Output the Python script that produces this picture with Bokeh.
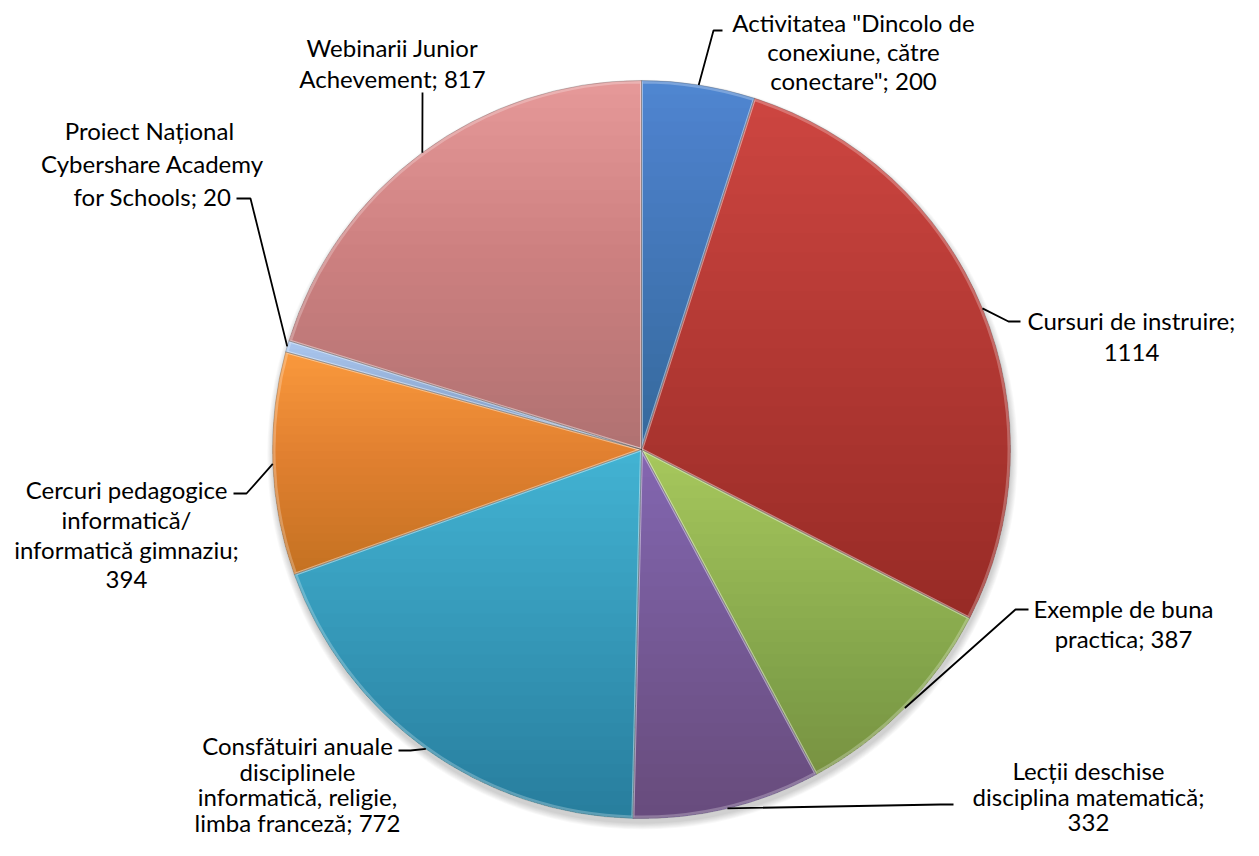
import numpy as np
from bokeh.plotting import figure
from bokeh.models import Range1d, ColumnDataSource
from bokeh.core.properties import value
from bokeh.embed import file_html
from bokeh.resources import INLINE

# ---------------- data ----------------
categories = [
    'Activitatea "Dincolo de conexiune, către conectare"',
    "Cursuri de instruire",
    "Exemple de buna practica",
    "Lecții deschise disciplina matematică",
    "Consfătuiri anuale disciplinele informatică, religie, limba franceză",
    "Cercuri pedagogice informatică/ informatică gimnaziu",
    "Proiect  Național Cybershare Academy for Schools",
    "Webinarii Junior Achevement",
]
values = [200, 1114, 387, 332, 772, 394, 20, 817]
label_lines = [
    ['Activitatea "Dincolo de', 'conexiune, către', 'conectare"; {v}'],
    ['Cursuri de instruire;', '{v}'],
    ['Exemple de buna', 'practica; {v}'],
    ['Lecții deschise', 'disciplina matematică;', '{v}'],
    ['Consfătuiri anuale', 'disciplinele', 'informatică, religie,', 'limba franceză; {v}'],
    ['Cercuri pedagogice', 'informatică/', 'informatică gimnaziu;', '{v}'],
    ['Proiect  Național', 'Cybershare Academy', 'for Schools; {v}'],
    ['Webinarii Junior', 'Achevement; {v}'],
]
colors = ["#4f86d0", "#cc4540", "#a6c75c", "#8566b0", "#42b2d2", "#f9983c", "#aac6ee", "#e59898"]

# ---------------- layout (picture pixel coords, y down) ----------------
FW, FH = 1243, 840
H = 856
CX, CY, R = 641, 449, 369
label_pos = [(853, 22), (1131, 320), (1123, 608), (1088, 770), (297, 745), (126, 489), (152, 130), (392, 47)]
label_step = [29, 32, 30, 26, 25.5, 30, 33, 31]
leader_pts = [
    [(722, 30), (713, 30)],
    [(1020, 321), (1008, 321)],
    [(1028, 609), (1015, 609)],
    [(953, 804), (940, 804)],
    [(398, 750), (410, 750)],
    [(233, 493), (246, 493)],
    [(236, 198), (250, 198)],
    [(422, 92), (422, 96)],
]


def Y(py):
    return H - py


cx, cy = CX, Y(CY)

p = figure(width=FW, height=FH, output_backend="svg", toolbar_location=None,
           x_range=Range1d(0, FW), y_range=Range1d(H - FH, H),
           x_axis_location=None, y_axis_location=None, min_border=0)
p.grid.visible = False
p.outline_line_color = None
p.background_fill_color = "white"
p.border_fill_color = "white"

vals = np.array(values, dtype=float)
frac = vals / vals.sum()
cum = np.concatenate([[0], np.cumsum(frac)])
t0 = cum[:-1] * 2 * np.pi  # compass angle, clockwise from top
t1 = cum[1:] * 2 * np.pi
tm = (t0 + t1) / 2

# soft shadow under the pie
for i in range(8):
    p.circle(x=[cx + 1], y=[cy - 5], radius=R + i * 0.9, fill_color="black",
             fill_alpha=0.022, line_color=None)

src = ColumnDataSource(dict(
    x=[cx] * len(values), y=[cy] * len(values),
    start=list(np.pi / 2 - t0), end=list(np.pi / 2 - t1),
    color=colors, cat=categories, val=values))
p.wedge(x="x", y="y", radius=R, start_angle="start", end_angle="end", direction="clock",
        fill_color="color", line_color=None, source=src)


def slice_poly(a, b):
    n = max(3, int(np.degrees(b - a) / 0.5) + 2)
    ts = np.linspace(a, b, n)
    return [(cx, cy)] + [(cx + R * np.sin(t), cy + R * np.cos(t)) for t in ts]


def clip_below(pts, yk):
    out = []
    n = len(pts)
    for i in range(n):
        cur, prev = pts[i], pts[i - 1]
        cin, pin = cur[1] <= yk, prev[1] <= yk
        if cin != pin:
            f = (yk - prev[1]) / (cur[1] - prev[1])
            out.append((prev[0] + f * (cur[0] - prev[0]), yk))
        if cin:
            out.append(cur)
    return out


# vertical per-slice shading (darker toward bottom)
N = 26
a = 1 - (0.78) ** (1 / N)
gx, gy = [], []
for i in range(len(values)):
    poly = slice_poly(t0[i], t1[i])
    ys_ = [q[1] for q in poly]
    ytop, ybot = max(ys_), min(ys_)
    for k in range(1, N + 1):
        yk = ytop - (k / (N + 1)) * (ytop - ybot)
        cp = clip_below(poly, yk)
        if len(cp) >= 3:
            gx.append([q[0] for q in cp])
            gy.append([q[1] for q in cp])
p.patches(xs=gx, ys=gy, fill_color="black", fill_alpha=a, line_color=None)

# bevel-like edges
p.wedge(x="x", y="y", radius=R - 1.5, start_angle="start", end_angle="end", direction="clock",
        fill_color=None, line_color="white", line_alpha=0.25, line_width=3, source=src)
p.wedge(x="x", y="y", radius=R, start_angle="start", end_angle="end", direction="clock",
        fill_color=None, line_color="#303030", line_alpha=0.3, line_width=0.8, source=src)

# leader lines
lx, ly = [], []
for i in range(len(values)):
    ex, ey = cx + R * np.sin(tm[i]), cy + R * np.cos(tm[i])
    (ax_, ay_), (bx_, by_) = leader_pts[i]
    lx.append([ax_, bx_, ex])
    ly.append([Y(ay_), Y(by_), ey])
p.multi_line(xs=lx, ys=ly, line_color="black", line_width=1.8)

# labels
tx, ty, tt = [], [], []
for i in range(len(values)):
    x0, y0 = label_pos[i]
    for j, ln in enumerate(label_lines[i]):
        tx.append(x0)
        ty.append(Y(y0 + j * label_step[i]))
        tt.append(ln.format(v=values[i]))
p.text(x=tx, y=ty, text=tt, text_align="center", text_baseline="middle",
       text_font=value("Lato"), text_font_size="24px", text_color="black")

open("out.html", "w").write(file_html(p, INLINE))
